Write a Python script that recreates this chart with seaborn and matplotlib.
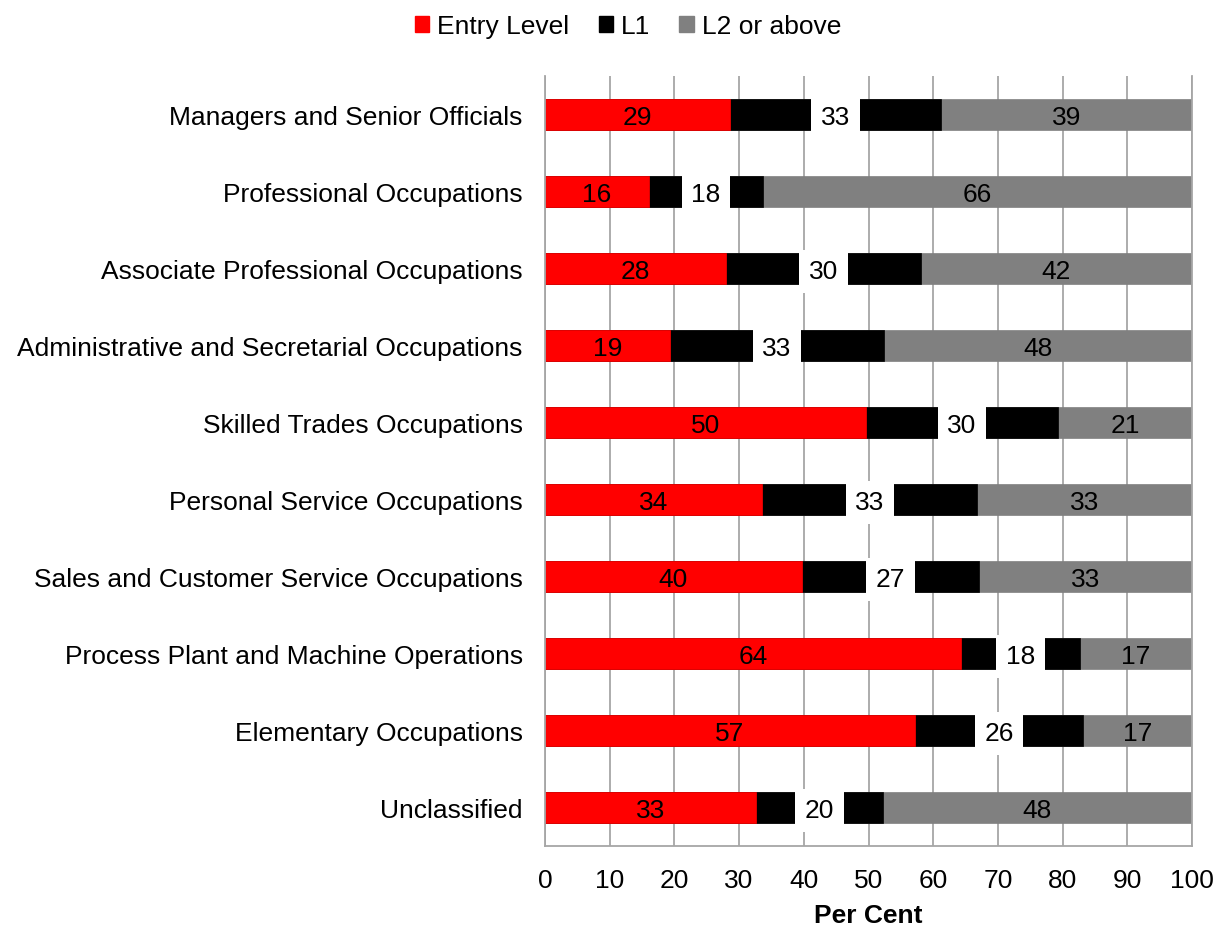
import matplotlib
matplotlib.use("Agg")
import matplotlib.pyplot as plt
import seaborn as sns
import pandas as pd
from matplotlib.patches import Patch

# Share of each occupation group by qualification level (per cent)
occupations = [
    "Managers and Senior Officials",
    "Professional Occupations",
    "Associate Professional Occupations",
    "Administrative and Secretarial Occupations",
    "Skilled Trades Occupations",
    "Personal Service Occupations",
    "Sales and Customer Service Occupations",
    "Process Plant and Machine Operations",
    "Elementary Occupations",
    "Unclassified",
]
entry_level = [28.6, 16.0, 28.0, 19.3, 49.6, 33.6, 39.7, 64.3, 57.2, 32.6]
level_1 = [32.6, 17.7, 30.1, 33.1, 29.7, 33.2, 27.4, 18.4, 26.0, 19.6]
level_2_plus = [38.8, 66.3, 41.9, 47.6, 20.7, 33.2, 32.9, 17.3, 16.8, 47.8]

series_names = ["Entry Level", "L1", "L2 or above"]
series_colors = ["#ff0000", "#000000", "#808080"]
x_ticks = list(range(0, 101, 10))

df = pd.DataFrame({
    "occupation": occupations,
    "entry": entry_level,
    "l1": level_1,
    "l2": level_2_plus,
})
df["cum_entry"] = df["entry"]
df["cum_l1"] = df["entry"] + df["l1"]
df["cum_l2"] = df["cum_l1"] + df["l2"]

sns.set_style("white")
plt.rcParams["font.family"] = ["Liberation Sans", "DejaVu Sans"]
plt.rcParams["text.color"] = "black"

fig = plt.figure(figsize=(12.17, 9.29), dpi=100)
ax = fig.add_axes([545 / 1217, 1 - 847 / 929, (1192 - 545) / 1217, (847 - 77) / 929])

bar_h = 0.39
# Stacked bars: draw cumulative totals back to front
for col, color in [("cum_l2", series_colors[2]), ("cum_l1", series_colors[1]), ("cum_entry", series_colors[0])]:
    sns.barplot(data=df, x=col, y="occupation", orient="h", color=color,
                width=bar_h, saturation=1, edgecolor=color, linewidth=0.5, ax=ax, zorder=2)

fs = 19
va = "center_baseline"
for i, row in df.iterrows():
    ax.text(row["entry"] / 2, i, f"{row['entry']:.0f}", ha="center", va=va,
            fontsize=fs, color="black", zorder=4)
    ax.text(row["entry"] + row["l1"] / 2, i, f"{row['l1']:.0f}", ha="center", va=va,
            fontsize=fs, color="black", zorder=5,
            bbox=dict(boxstyle="square,pad=0.36", facecolor="white", edgecolor="none"))
    ax.text(row["cum_l1"] + row["l2"] / 2, i, f"{row['l2']:.0f}", ha="center", va=va,
            fontsize=fs, color="black", zorder=4)

ax.set_xlim(0, 100)
ax.set_ylim(len(occupations) - 0.5, -0.5)
ax.set_xticks(x_ticks)
ax.set_xticklabels([str(t) for t in x_ticks])
ax.xaxis.grid(True, color="#a6a6a6", linewidth=1.3, zorder=0)
ax.yaxis.grid(False)
ax.set_axisbelow(True)

ax.spines["top"].set_visible(False)
for side in ["left", "bottom", "right"]:
    ax.spines[side].set_color("#a6a6a6")
    ax.spines[side].set_linewidth(1.3)

ax.tick_params(axis="x", direction="out", length=7, width=1.3, color="#a6a6a6",
               labelsize=fs, labelcolor="black", pad=9)
ax.tick_params(axis="y", length=0, labelsize=fs, labelcolor="black", pad=16)
for lbl in ax.get_yticklabels():
    lbl.set_verticalalignment("center_baseline")
ax.set_ylabel("")
ax.set_xlabel("Per Cent", fontsize=fs, fontweight="bold", color="black", labelpad=8)

handles = [Patch(facecolor=c, edgecolor=c) for c in series_colors]
fig.legend(handles, series_names, loc="center", bbox_to_anchor=(0.516, 0.971), ncol=3,
           frameon=False, fontsize=fs, labelcolor="black", handlelength=0.55, handleheight=0.55,
           handletextpad=0.3, columnspacing=1.1)

fig.savefig("out.png", dpi=100)
